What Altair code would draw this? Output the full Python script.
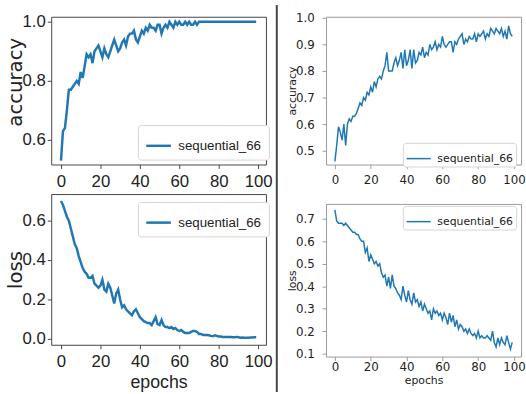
import altair as alt
import pandas as pd

series_name = "sequential_66"
epochs = list(range(100))

train_acc = [0.53, 0.63, 0.64, 0.70, 0.77, 0.77, 0.78, 0.79, 0.80, 0.79,
             0.83, 0.81, 0.85, 0.89, 0.88, 0.89, 0.86, 0.90, 0.91, 0.92,
             0.90, 0.88, 0.91, 0.89, 0.88, 0.90, 0.92, 0.94, 0.92, 0.90,
             0.91, 0.93, 0.94, 0.92, 0.95, 0.96, 0.96, 0.97, 0.94, 0.93,
             0.95, 0.97, 0.96, 0.98, 0.97, 0.99, 0.98, 0.98, 0.97, 0.99,
             0.99, 0.96, 0.98, 0.99, 0.98, 1.00, 0.99, 0.98, 1.00, 0.99,
             1.00, 0.99, 0.99, 1.00, 0.99, 1.00, 0.99, 0.99, 1.00, 0.99,
             1.00, 1.00, 1.00, 1.00, 1.00, 1.00, 1.00, 1.00, 1.00, 1.00,
             1.00, 1.00, 1.00, 1.00, 1.00, 1.00, 1.00, 1.00, 1.00, 1.00,
             1.00, 1.00, 1.00, 1.00, 1.00, 1.00, 1.00, 1.00, 1.00, 1.00]

train_loss = [0.70, 0.68, 0.65, 0.62, 0.60, 0.56, 0.52, 0.48, 0.46, 0.42,
              0.39, 0.36, 0.34, 0.33, 0.31, 0.31, 0.32, 0.28, 0.27, 0.26,
              0.27, 0.30, 0.25, 0.24, 0.28, 0.26, 0.22, 0.18, 0.23, 0.25,
              0.20, 0.16, 0.17, 0.15, 0.14, 0.13, 0.12, 0.14, 0.15, 0.13,
              0.11, 0.10, 0.09, 0.085, 0.08, 0.08, 0.07, 0.09, 0.11, 0.075,
              0.07, 0.095, 0.07, 0.06, 0.06, 0.055, 0.06, 0.05, 0.055, 0.045,
              0.04, 0.045, 0.035, 0.03, 0.03, 0.03, 0.035, 0.04, 0.04, 0.035,
              0.025, 0.025, 0.02, 0.02, 0.02, 0.018, 0.015, 0.013, 0.018, 0.015,
              0.012, 0.012, 0.01, 0.01, 0.01, 0.009, 0.009, 0.008, 0.008, 0.01,
              0.008, 0.006, 0.007, 0.006, 0.006, 0.006, 0.007, 0.007, 0.008, 0.008]

val_acc = [0.46, 0.52, 0.59, 0.57, 0.54, 0.60, 0.52, 0.60, 0.62, 0.61,
           0.63, 0.63, 0.64, 0.66, 0.68, 0.67, 0.70, 0.69, 0.72, 0.71,
           0.74, 0.72, 0.76, 0.74, 0.77, 0.78, 0.77, 0.80, 0.82, 0.87,
           0.80, 0.80, 0.80, 0.83, 0.85, 0.82, 0.84, 0.87, 0.81, 0.88,
           0.82, 0.84, 0.88, 0.81, 0.88, 0.83, 0.84, 0.87, 0.86, 0.89,
           0.85, 0.87, 0.86, 0.90, 0.88, 0.89, 0.91, 0.88, 0.90, 0.89,
           0.93, 0.90, 0.89, 0.90, 0.91, 0.91, 0.87, 0.91, 0.90, 0.92,
           0.93, 0.94, 0.90, 0.92, 0.91, 0.93, 0.92, 0.92, 0.94, 0.91,
           0.94, 0.93, 0.94, 0.95, 0.92, 0.94, 0.93, 0.96, 0.95, 0.94,
           0.96, 0.95, 0.94, 0.96, 0.93, 0.95, 0.92, 0.97, 0.94, 0.93]

val_loss = [0.74, 0.69, 0.68, 0.68, 0.68, 0.67, 0.68, 0.67, 0.66, 0.65,
            0.64, 0.64, 0.63, 0.63, 0.61, 0.60, 0.60, 0.55, 0.57, 0.51,
            0.54, 0.52, 0.50, 0.51, 0.49, 0.50, 0.46, 0.44, 0.45, 0.40,
            0.44, 0.39, 0.45, 0.40, 0.39, 0.37, 0.36, 0.34, 0.40, 0.36,
            0.33, 0.38, 0.34, 0.32, 0.37, 0.33, 0.34, 0.31, 0.33, 0.29,
            0.32, 0.30, 0.28, 0.29, 0.25, 0.30, 0.28, 0.29, 0.27, 0.28,
            0.25, 0.28, 0.26, 0.23, 0.28, 0.24, 0.27, 0.22, 0.25, 0.21,
            0.23, 0.22, 0.20, 0.21, 0.19, 0.21, 0.19, 0.18, 0.19, 0.17,
            0.20, 0.17, 0.18, 0.17, 0.17, 0.18, 0.17, 0.16, 0.20, 0.15,
            0.13, 0.17, 0.14, 0.17, 0.15, 0.14, 0.18, 0.15, 0.12, 0.15]

x_ticks = [0, 20, 40, 60, 80, 100]
x_domain = [-4.95, 103.95]
BLUE = "#1f77b4"

SANS = "DejaVu Sans, sans-serif"
ARIALISH = "Liberation Sans, Arial, sans-serif"

LEFT = dict(tick_font=ARIALISH, tick_size=17, title_font=SANS, title_size=20,
            xtitle_font=ARIALISH, xtitle_size=18,
            lw=2.5, spine="#444", leg_font=ARIALISH, leg_size=13.5, leg_pad=7,
            sym=625, lpx=5, lpy=2, ytitle_x=-36)
RIGHT = dict(tick_font=SANS, tick_size=12, title_font=SANS, title_size=11,
             xtitle_font=SANS, xtitle_size=11,
             lw=1.5, spine="#999", leg_font=SANS, leg_size=11, leg_pad=3,
             sym=600, lpx=6, lpy=8, ytitle_x=-34)


def panel(values, ytitle, ydomain, yticks, w, h, s, leg_x, leg_y,
          xtitle=None, xtitle_y=None, ytitle_y=None, extras=(), lpx=None):
    df = pd.DataFrame({"epoch": epochs, "value": values,
                       "series": [series_name] * len(epochs)})
    xaxis = dict(values=x_ticks, format="d", labelFont=s["tick_font"],
                 labelFontSize=s["tick_size"], labelColor="#222",
                 tickColor=s["spine"], tickSize=4,
                 labelPadding=s["lpx"] if lpx is None else lpx,
                 domain=False, grid=False, title=xtitle,
                 titleFont=s["xtitle_font"], titleFontSize=s["xtitle_size"],
                 titleFontWeight="normal", titleColor="#222")
    if xtitle_y is not None:
        xaxis["titleY"] = xtitle_y
        xaxis["titleBaseline"] = "middle"
    yaxis = dict(values=yticks, format=".1f", labelFont=s["tick_font"],
                 labelFontSize=s["tick_size"], labelColor="#222",
                 tickColor=s["spine"], tickSize=4, labelPadding=s["lpy"],
                 domain=False, grid=False, title=ytitle,
                 titleFont=s["title_font"], titleFontSize=s["title_size"],
                 titleFontWeight="normal", titleColor="#222",
                 titleX=s["ytitle_x"], titleBaseline="middle")
    if ytitle_y is not None:
        yaxis["titleY"] = ytitle_y
    line = alt.Chart(df).mark_line(strokeWidth=s["lw"]).encode(
        x=alt.X("epoch:Q", scale=alt.Scale(domain=x_domain, nice=False, zero=False),
                axis=alt.Axis(**xaxis)),
        y=alt.Y("value:Q", scale=alt.Scale(domain=ydomain, nice=False, zero=False),
                axis=alt.Axis(**yaxis)),
        color=alt.Color("series:N", scale=alt.Scale(range=[BLUE]),
                        legend=alt.Legend(title=None, orient="none",
                                          legendX=leg_x, legendY=leg_y,
                                          symbolType="stroke", symbolSize=s["sym"],
                                          symbolStrokeWidth=s["lw"],
                                          labelFont=s["leg_font"],
                                          labelFontSize=s["leg_size"],
                                          labelColor="#222", labelOffset=6,
                                          fillColor="white", strokeColor="#d4d4d4",
                                          padding=s["leg_pad"], cornerRadius=3)),
    )
    return alt.layer(line, *extras).properties(
        width=w, height=h,
        view=alt.ViewBackground(stroke=s["spine"], strokeWidth=1, fill="white"))


one = pd.DataFrame({"k": [0]})
# visible divider between the two figure halves (in the left column)
divider = alt.Chart(one).mark_rule(color="#444", strokeWidth=2).encode(
    x=alt.value(229), y=alt.value(-12), y2=alt.value(381))
# invisible anchor so both columns share the same outer bounds
anchor = alt.Chart(one).mark_rule(color="white", strokeWidth=2, opacity=0).encode(
    x=alt.value(-47), y=alt.value(-12), y2=alt.value(0))

tl = panel(train_acc, "accuracy", [0.517, 1.017], [0.6, 0.8, 1.0], 218, 150,
           LEFT, 88, 110, ytitle_y=66, extras=(divider,))
bl = panel(train_loss, "loss", [-0.03, 0.735], [0.0, 0.2, 0.4, 0.6], 218, 153,
           LEFT, 88, 8, xtitle="epochs", xtitle_y=38)
tr = panel(val_acc, "accuracy", [0.448, 1.004], [0.5, 0.6, 0.7, 0.8, 0.9, 1.0],
           198, 150, RIGHT, 78, 128, extras=(anchor,))
br = panel(val_loss, "loss", [0.087, 0.766], [0.1, 0.2, 0.3, 0.4, 0.5, 0.6, 0.7],
           198, 155, RIGHT, 78, 2, xtitle="epochs", xtitle_y=24, lpx=1)


def indep(c):
    return c.resolve_scale(x="independent", y="independent", color="independent"
                           ).resolve_legend(color="independent")


left = indep(alt.vconcat(tl, bl, spacing=30, bounds="flush"))
right = indep(alt.vconcat(tr, br, spacing=40, bounds="flush"))

chart = indep(alt.hconcat(left, right, spacing=0, bounds="full")).properties(
    padding={"left": 5, "top": 0, "right": 0, "bottom": 0},
    background="white",
)

chart.save("out.html", embed_options={"renderer": "svg", "actions": False})
